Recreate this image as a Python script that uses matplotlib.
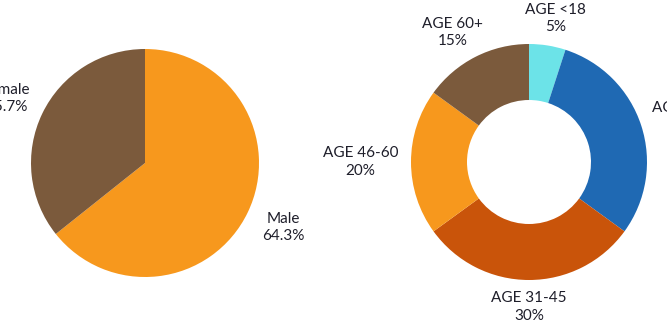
import numpy as np
import matplotlib.pyplot as plt

plt.rcParams['font.family'] = ['Lato', 'DejaVu Sans']

# gender split
gender_labels = ['Male', 'Female']
gender_pct = [64.3, 35.7]
gender_colors = ['#F7981D', '#7B5A3C']

# age split
age_labels = ['AGE <18', 'AGE 18-30', 'AGE 31-45', 'AGE 46-60', 'AGE 60+']
age_pct = [5, 30, 30, 20, 15]
age_colors = ['#6CE3E8', '#1F69B3', '#C9540A', '#F7981D', '#7B5A3C']

text_color = '#1E1E2A'

fig = plt.figure(figsize=(6.67, 3.34), dpi=100)
ax = fig.add_axes([0, 0, 1, 1])


def draw_pie(values, labels, colors, center, radius, kx, ky, width=None, fmt='{:.1f}%'):
    props = dict(linewidth=0)
    if width is not None:
        props['width'] = width
    wedges, _ = ax.pie(values, colors=colors, startangle=90, counterclock=False,
                       center=center, radius=radius, wedgeprops=props)
    for w, lab, v in zip(wedges, labels, values):
        mid = np.deg2rad((w.theta1 + w.theta2) / 2)
        x = center[0] + np.cos(mid) * radius * kx
        y = center[1] + np.sin(mid) * radius * ky
        ax.text(x, y, f'{lab}\n{fmt.format(v)}', ha='center', va='center',
                fontsize=11, color=text_color, linespacing=1.3)


draw_pie(gender_pct, gender_labels, gender_colors, center=(145, 171), radius=114,
         kx=1.35, ky=1.3)
draw_pie(age_pct, age_labels, age_colors, center=(529, 172), radius=118,
         kx=1.43, ky=1.23, width=56, fmt='{:.0f}%')

ax.set_xlim(0, 667)
ax.set_ylim(0, 334)
ax.set_aspect('equal')
ax.axis('off')

fig.savefig('out.png', dpi=100, facecolor='white')
